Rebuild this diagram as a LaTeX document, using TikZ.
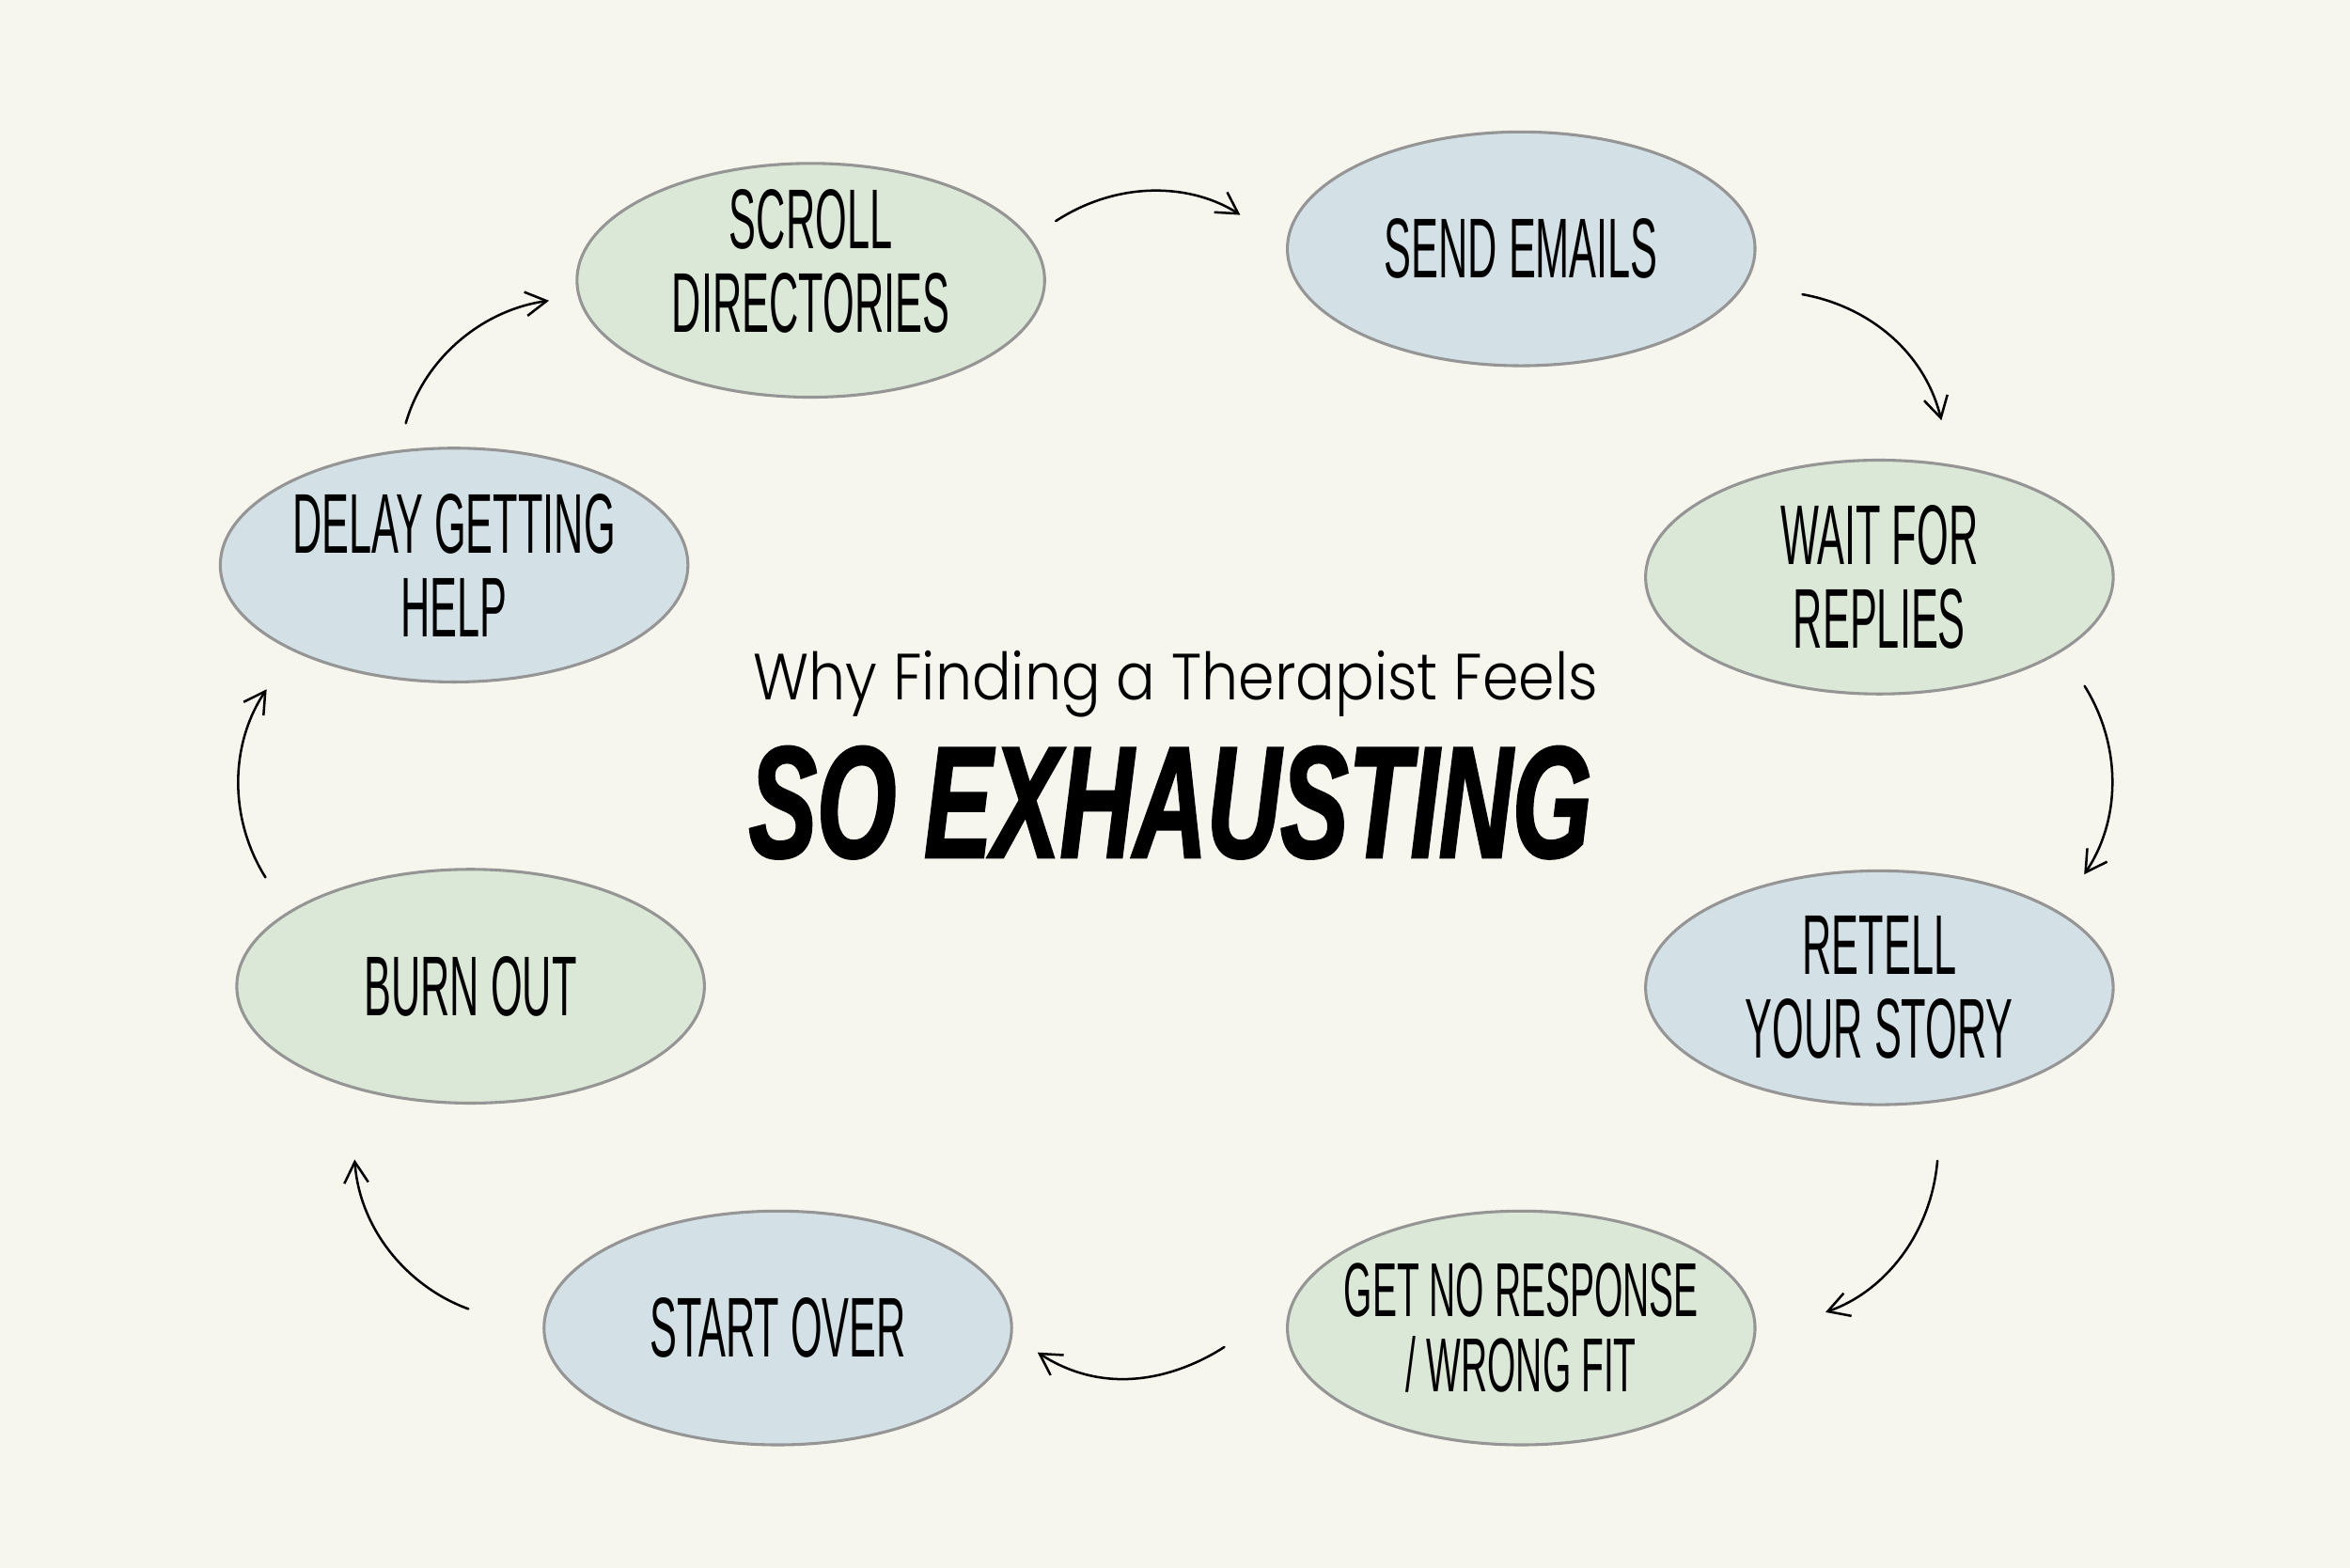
\documentclass[tikz,border=0pt]{standalone}
\usepackage{fontspec}
\usetikzlibrary{shapes.geometric,arrows.meta}

\newfontfamily\stagefont[FakeStretch=0.48]{Liberation Sans}
\newfontfamily\leadfont[FakeStretch=0.89]{Poppins Light}
\newfontfamily\headfont[FakeStretch=0.64,FakeBold=1.5]{Liberation Sans Bold Italic}

\definecolor{paper}{HTML}{F6F6EE}
\definecolor{sage}{HTML}{DCE8D7}
\definecolor{mist}{HTML}{D3E1E6}
\definecolor{rim}{HTML}{959595}

\def\ringw{3.12cm}
\def\ringh{1.56cm}
\newcommand{\liftline}[1]{\raisebox{-0.7mm}[0pt][0pt]{#1}}

\begin{document}
\begin{tikzpicture}[x=0.1mm,y=-0.1mm]
    \tikzstyle{stage}=[ellipse,draw=rim,line width=0.55pt,minimum width=\ringw,minimum height=\ringh,inner sep=0pt,align=center,font=\stagefont\fontsize{16.1pt}{15.9pt}\selectfont]
    \tikzstyle{greenstage}=[stage,fill=sage]
    \tikzstyle{bluestage}=[stage,fill=mist]
    \tikzstyle{flow}=[-{Straight Barb[length=1.4mm,width=1.6mm]},line width=0.45pt,line cap=round]

    \fill[paper] (0,0) rectangle (1568,1046);

    %%%%%%%%%%%%%%%%%%%%%%%%%%%%%%%%%%%%%%%%%%%%
    %%% DRAW THE STAGES
    %%%%%%%%%%%%%%%%%%%%%%%%%%%%%%%%%%%%%%%%%%%%
    \node[greenstage] (scroll) at (541,187) {\liftline{SCROLL}\\\liftline{DIRECTORIES}};
    \node[bluestage] (send) at (1015,166) {SEND EMAILS};
    \node[greenstage] (wait) at (1254,385) {WAIT FOR\\REPLIES};
    \node[bluestage] (retell) at (1254,659) {RETELL\\YOUR STORY};
    \node[greenstage,font=\stagefont\fontsize{14.5pt}{14.3pt}\selectfont] (getno) at (1015,886) {\makebox[2.2cm]{GET NO RESPONSE}\\/ WRONG FIT};
    \node[bluestage] (startover) at (519,886) {START OVER};
    \node[greenstage] (burnout) at (314,658) {BURN OUT};
    \node[bluestage] (delay) at (303,377) {DELAY GETTING\\HELP};

    % Title in the middle
    \node[anchor=base west,inner sep=0pt,font=\leadfont\fontsize{12.4pt}{14pt}\selectfont] (subtitle) at (502,467) {Why Finding a Therapist Feels};
    \node[anchor=base west,inner sep=0pt,font=\headfont\fontsize{30.2pt}{32pt}\selectfont] (headline) at (499,572) {SO EXHAUSTING};

    %%%%%%%%%%%%%%%%%%%%%%%%%%%%%%%%%%%%%%%%%%%%
    %%% DRAW THE ARROWS
    %%%%%%%%%%%%%%%%%%%%%%%%%%%%%%%%%%%%%%%%%%%%
    \foreach \from/\to/\o/\i/\l/\sa/\sb in {
        scroll.11.7/send.179.6/33/147/1.09/2.03/3.65,
        send.351/wait.57.6/350/104/1.12/3.85/3.04,
        wait.338.4/retell.23.7/302/56/1.09/2.74/2.98,
        retell.299.8/getno.358.8/265/19/1.15/3.96/4.91,
        getno.174/startover.358.9/213/327/1.11/5.30/1.99,
        startover.182.3/burnout.220.2/160/274/1.16/5.31/4.80,
        burnout.158.4/delay.208.6/122/236/1.09/2.73/3.08,
        delay.116/scroll.184.4/74/188/1.04/1.87/1.94}
        \draw[flow,shorten <=\sa mm,shorten >=\sb mm] (\from) to[out=\o,in=\i,looseness=\l] (\to);
\end{tikzpicture}
\end{document}
